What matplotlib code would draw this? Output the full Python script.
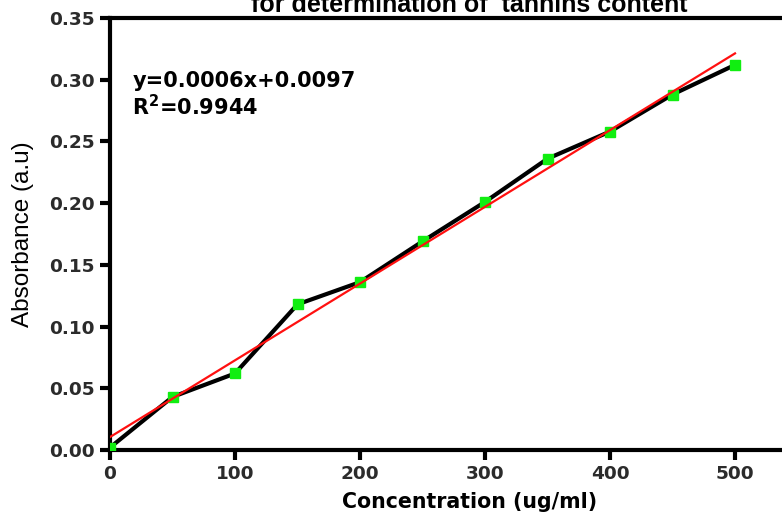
import numpy as np
import matplotlib
matplotlib.use('Agg')
import matplotlib.pyplot as plt

# standard curve data
conc = [0, 50, 100, 150, 200, 250, 300, 350, 400, 450, 500]
absorb = [0.002, 0.043, 0.062, 0.118, 0.136, 0.169, 0.201, 0.236, 0.258, 0.288, 0.312]
xticks = [0, 100, 200, 300, 400, 500]
yticks = [0.00, 0.05, 0.10, 0.15, 0.20, 0.25, 0.30, 0.35]

plt.rcParams['font.family'] = ['Liberation Sans', 'DejaVu Sans']
wide = ['DejaVu Sans']

fig = plt.figure(figsize=(7.82, 5.24), dpi=100)
# axes runs past the right edge of the picture (cropped like the original)
ax = fig.add_axes([110 / 782, 74 / 524, 718.75 / 782, 432 / 524])

ax.plot(conc, absorb, color='black', lw=3, zorder=2)
ax.plot(conc, absorb, linestyle='none', marker='s', ms=7.5, color='#11ee11',
        mec='#11ee11', zorder=3)

slope, icpt = np.polyfit(conc, absorb, 1)
xf = np.array([conc[0], conc[-1]])
ax.plot(xf, slope * xf + icpt, color='#ff1010', lw=1.6, zorder=4)

ax.set_xlim(0, 575)
ax.set_ylim(0, 0.35)
ax.set_xticks(xticks)
ax.set_yticks(yticks)
ax.set_xticklabels([str(t) for t in xticks])
ax.set_yticklabels([f'{t:.2f}' for t in yticks])

for s in ['left', 'bottom', 'top']:
    ax.spines[s].set_linewidth(3)
ax.spines['right'].set_visible(False)
ax.tick_params(direction='out', length=7, width=3, pad=4,
               colors='black', labelcolor='#2b2b2b')
for lab in ax.get_xticklabels() + ax.get_yticklabels():
    lab.set_fontfamily(wide)
    lab.set_fontweight('bold')
    lab.set_fontsize(13.3)

ax.set_xlabel('Concentration (ug/ml)', fontsize=14.8, fontweight='bold', family=wide)
ax.xaxis.set_label_coords(0.5, -0.097)
ax.xaxis.label.set_verticalalignment('top')
ax.set_ylabel('Absorbance (a.u)', fontsize=17.5)
ax.yaxis.set_label_coords(-0.106, 0.5)

ax.text(0.031, 0.84, 'y=0.0006x+0.0097', transform=ax.transAxes,
        fontsize=15, fontweight='bold', va='baseline', family=wide)
ax.text(0.031, 0.7755, 'R$^\\mathregular{2}$=0.9944', transform=ax.transAxes,
        fontsize=15, fontweight='bold', va='baseline', family=wide)

# title is cut by the top edge, as in the original picture
fig.text(469 / 782, 1 - 12 / 524, 'for determination of  tannins content',
         ha='center', va='baseline', fontsize=18, fontweight='bold')

fig.savefig('out.png', dpi=100)
